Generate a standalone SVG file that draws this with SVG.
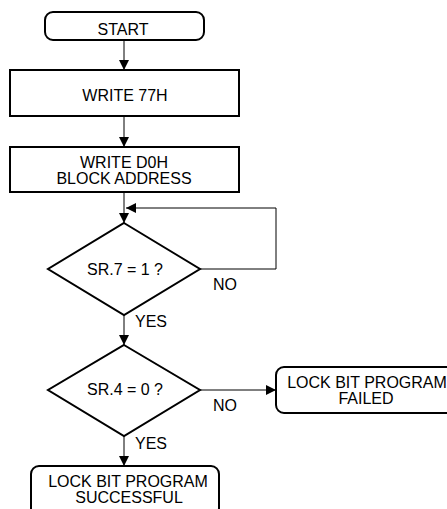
<svg xmlns="http://www.w3.org/2000/svg" width="447" height="509" viewBox="0 0 447 509">
<defs>
<marker id="ah" viewBox="0 0 10 10" refX="10" refY="5" markerWidth="10" markerHeight="10" markerUnits="userSpaceOnUse" orient="auto"><path d="M0,0 L10,5 L0,10 z" fill="#000"/></marker>
</defs>
<style>
.box{fill:#fff;stroke:#000;stroke-width:2}
.ln{fill:none;stroke:#000;stroke-width:1}
text{font-family:"Liberation Sans",Arial,sans-serif;font-size:16px;fill:#000}
.c{text-anchor:middle}
</style>
<rect width="447" height="509" fill="#fff"/>
<g id="connectors">
<path class="ln" d="M124,40 V70" marker-end="url(#ah)"/>
<path class="ln" d="M124,116 V147" marker-end="url(#ah)"/>
<path class="ln" d="M124,192 V223" marker-end="url(#ah)"/>
<path class="ln" d="M200,269 H276 V208 H126" marker-end="url(#ah)"/>
<path class="ln" d="M124,315 V345" marker-end="url(#ah)"/>
<path class="ln" d="M200,390 H276" marker-end="url(#ah)"/>
<path class="ln" d="M124,436 V466" marker-end="url(#ah)"/>
<text x="213" y="290">NO</text>
<text x="135" y="327">YES</text>
<text x="213" y="411">NO</text>
<text x="135" y="449">YES</text>
</g>
<g id="start"><rect class="box" x="45" y="12" width="159" height="28" rx="8"/><text class="c" x="123" y="35">START</text></g>
<g id="write77"><rect class="box" x="10" y="70" width="229" height="46"/><text class="c" x="125" y="101">WRITE 77H</text></g>
<g id="writeD0"><rect class="box" x="10" y="147" width="229" height="45"/><text class="c" x="124" y="168">WRITE D0H</text><text class="c" x="124" y="184">BLOCK ADDRESS</text></g>
<g id="sr7"><path class="box" d="M124,223 L200,269 L124,315 L48,269 z"/><text class="c" x="125" y="275">SR.7 = 1 ?</text></g>
<g id="sr4"><path class="box" d="M124,345 L200,390 L124,436 L48,390 z"/><text class="c" x="125" y="395">SR.4 = 0 ?</text></g>
<g id="failed"><rect class="box" x="276" y="367" width="185" height="46" rx="8"/><text class="c" x="367" y="388">LOCK BIT PROGRAM</text><text class="c" x="366" y="404">FAILED</text></g>
<g id="success"><rect class="box" x="31" y="466" width="188" height="50" rx="8"/><text class="c" x="128" y="487">LOCK BIT PROGRAM</text><text class="c" x="129" y="503">SUCCESSFUL</text></g>
</svg>
